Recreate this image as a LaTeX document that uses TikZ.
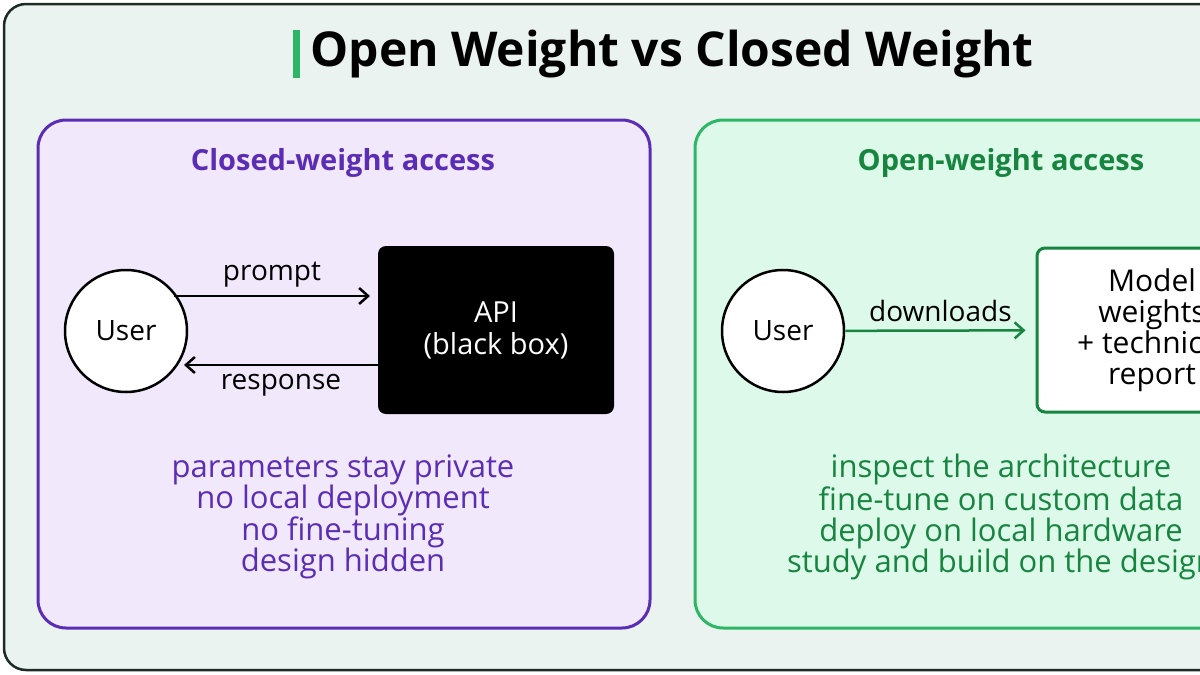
\documentclass[tikz,border=0pt]{standalone}
\usepackage{fontspec}
\setmainfont{Open Sans}
\usetikzlibrary{arrows.meta}
\definecolor{frame}{HTML}{1E2A24}
\definecolor{bg}{HTML}{EAF3EF}
\definecolor{purp}{HTML}{5B2DB5}
\definecolor{purpfill}{HTML}{F1E8FC}
\definecolor{grn}{HTML}{2DB665}
\definecolor{grnfill}{HTML}{DCF9E9}
\definecolor{grntext}{HTML}{17843F}
\tikzset{
 panel/.style={rounded corners=28pt, line width=3pt},
 user/.style={circle, draw=black, line width=2.5pt, fill=white, minimum size=122pt, font=\fontsize{28}{32}\selectfont},
 arr/.style={-{Straight Barb[length=9pt,width=16pt]}, line width=2.5pt},
 lbl/.style={font=\fontsize{28}{32}\selectfont},
 note/.style={align=center, font=\fontsize{31}{31}\selectfont},
}
\begin{document}
\begin{tikzpicture}[x=1pt,y=-1pt]
\useasboundingbox (0,0) rectangle (1200,675);
\begin{scope}
\clip (0,0) rectangle (1200,675);
\draw[line width=2.5pt, draw=frame, fill=bg, rounded corners=22pt] (4,4) rectangle (1230,670);
\fill[grn] (293,30) rectangle (300,78);
\node[anchor=west, font=\bfseries\fontsize{48}{52}\selectfont] (title) at (307,54) {Open Weight vs Closed Weight};
% left panel
\draw[panel, draw=purp, fill=purpfill] (38,120) rectangle (650,628);
\node[font=\bfseries\fontsize{29}{32}\selectfont, text=purp] (lt) at (343,163) {Closed-weight access};
\node[user] (u1) at (126,331) {User};
\node[fill=black, rounded corners=8pt, minimum width=236pt, minimum height=168pt, text=white, align=center, font=\fontsize{29}{32}\selectfont] (api) at (496,330) {API\\(black box)};
\coordinate (p1) at (174,296); \coordinate (p2) at (370,296);
\draw[arr] (p1) -- node[lbl, above=4pt] (lp) {prompt} (p2);
\coordinate (r1) at (378,365); \coordinate (r2) at (184,365);
\draw[arr] (r1) -- node[lbl, below=5pt] (lr) {response} (r2);
\node[note, text=purp] (ln) at (343,517) {parameters stay private\\no local deployment\\no fine-tuning\\design hidden};
% right panel
\draw[panel, draw=grn, fill=grnfill] (695,120) rectangle (1260,628);
\node[font=\bfseries\fontsize{29}{32}\selectfont, text=grntext] (rt) at (1001,163) {Open-weight access};
\node[draw=grntext, line width=3pt, fill=white, rounded corners=8pt, minimum width=230pt, minimum height=164pt, align=center, font=\fontsize{30}{31}\selectfont] (mw) at (1152,330) {Model\\weights\\+ technical\\report};
\node[user] (u2) at (783,331) {User};
\draw[arr, draw=grntext, shorten >=10pt] (u2) -- node[lbl, above=4pt, text=black] (ld) {downloads} (mw);
\node[note, text=grntext] (rn) at (1001,517) {inspect the architecture\\fine-tune on custom data\\deploy on local hardware\\study and build on the design};
\end{scope}
\end{tikzpicture}
\end{document}
